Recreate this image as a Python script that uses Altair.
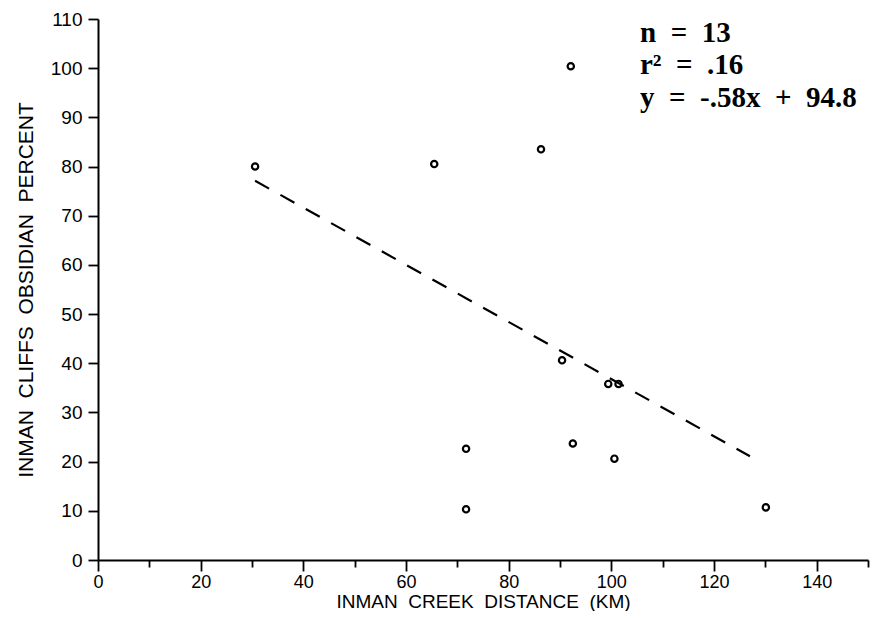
import altair as alt
import pandas as pd

# ---- data ----
distance_km = [30.6, 65.5, 86.3, 92.1, 90.4, 99.4, 101.4, 71.7, 71.7, 92.5, 100.6, 130.1]
obsidian_pct = [80.0, 80.5, 83.5, 100.4, 40.6, 35.8, 35.8, 22.6, 10.3, 23.7, 20.6, 10.7]

fit_x = [30.6, 127.0]
fit_y = [77.1, 21.1]

SP = "\u00a0\u00a0"
stats_lines = [
    "n" + SP + "=" + SP + "13",
    "r\u00b2" + SP + "=" + SP + ".16",
    "y" + SP + "=" + SP + "-.58x" + SP + "+" + SP + "94.8",
]

x_ticks = list(range(0, 151, 10))
y_ticks = list(range(0, 111, 5))

pts = pd.DataFrame({"x": distance_km, "y": obsidian_pct})
fit = pd.DataFrame({"x": fit_x, "y": fit_y})

SANS = "Liberation Sans"
SERIF = "Liberation Serif"

xscale = alt.Scale(domain=[0, 150], nice=False, zero=False)
yscale = alt.Scale(domain=[0, 110], nice=False, zero=False)

xaxis = alt.Axis(
    values=x_ticks,
    labelExpr="datum.value % 20 == 0 && datum.value < 150 ? datum.label : ''",
    tickSize=alt.condition("datum.value % 20 == 0", alt.value(11), alt.value(7)),
    title="INMAN\u00a0\u00a0CREEK\u00a0\u00a0DISTANCE\u00a0\u00a0(KM)",
    labelPadding=2,
    titlePadding=1,
    labelFontSize=18,
    titleFontSize=19,
    labelFlush=False,
    grid=False,
)
yaxis = alt.Axis(
    values=y_ticks,
    labelExpr="datum.value % 10 == 0 ? datum.label : ''",
    tickSize=alt.condition("datum.value % 10 == 0", alt.value(10), alt.value(7)),
    title="INMAN\u00a0\u00a0CLIFFS\u00a0\u00a0OBSIDIAN\u00a0\u00a0PERCENT",
    labelPadding=6,
    titlePadding=14,
    labelFontSize=19,
    titleFontSize=21,
    labelFlush=False,
    grid=False,
)

points = alt.Chart(pts).mark_point(
    shape="circle", filled=False, color="black", size=40, strokeWidth=2.2, opacity=1
).encode(
    x=alt.X("x:Q", scale=xscale, axis=xaxis),
    y=alt.Y("y:Q", scale=yscale, axis=yaxis),
)

line = alt.Chart(fit).mark_line(
    color="black", strokeWidth=2.2, strokeDash=[16, 13]
).encode(
    x=alt.X("x:Q", scale=xscale),
    y=alt.Y("y:Q", scale=yscale),
)

text_y = [23, 55, 88]
texts = []
for s, ty in zip(stats_lines, text_y):
    texts.append(
        alt.Chart(pd.DataFrame({"t": [s]})).mark_text(
            font=SERIF, fontSize=29, fontWeight="bold", color="black",
            align="left", baseline="alphabetic"
        ).encode(x=alt.value(542), y=alt.value(ty), text="t:N")
    )

chart = alt.layer(line, points, *texts).properties(
    width=770,
    height=541,
    background="white",
    autosize=alt.AutoSizeParams(type="none"),
    padding={"left": 90, "top": 11, "right": 19, "bottom": 51},
).configure_view(stroke=None).configure_axis(
    domainColor="black",
    domainWidth=2,
    tickColor="black",
    tickWidth=1.8,
    grid=False,
    labelFont=SANS,
    labelColor="black",
    titleFont=SANS,
    titleFontWeight="normal",
    titleColor="black",
)

chart.save("out.html", embed_options={"renderer": "svg", "actions": False})
